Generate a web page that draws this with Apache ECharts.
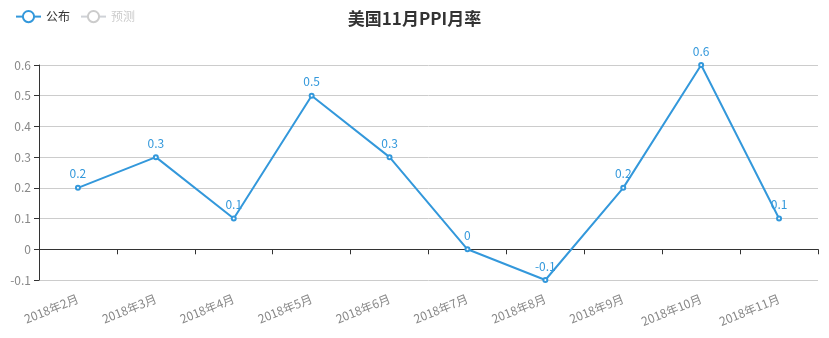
<!DOCTYPE html>
<html><head><meta charset="utf-8">
<script src="https://cdn.jsdelivr.net/npm/echarts@6/dist/echarts.min.js"></script>
<style>html,body{margin:0;padding:0;background:#fff}#c{width:829px;height:338px}</style>
</head><body><div id="c"></div>
<script>
var categories = ['2018年2月','2018年3月','2018年4月','2018年5月','2018年6月','2018年7月','2018年8月','2018年9月','2018年10月','2018年11月'];
var published = [0.2, 0.3, 0.1, 0.5, 0.3, 0, -0.1, 0.2, 0.6, 0.1];
var forecast = [];
var FONT = '"Noto Sans CJK SC", "Noto Sans", sans-serif';
var chart = echarts.init(document.getElementById('c'));
chart.setOption({
  textStyle: {fontFamily: FONT},
  title: {text: '美国11月PPI月率', left: 'center', top: 5,
    textStyle: {fontSize: 17, fontWeight: 'bold', color: '#333', fontFamily: FONT}},
  legend: {left: 10, top: 5, itemGap: 10, itemWidth: 25, itemHeight: 14,
    data: ['公布','预测'], selected: {'预测': false},
    textStyle: {fontSize: 12, color: '#333', fontFamily: FONT}, inactiveColor: '#ccc'},
  grid: {left: 39, right: 11, top: 65, bottom: 58, outerBoundsMode: 'none', containLabel: false},
  xAxis: {type: 'category', data: categories, boundaryGap: true,
    axisLine: {onZero: true, lineStyle: {color: '#333'}},
    axisTick: {show: true, lineStyle: {color: '#333'}},
    axisLabel: {rotate: 22, color: '#888', fontSize: 12, interval: 0, margin: 18, fontFamily: FONT}},
  yAxis: {type: 'value', min: -0.1, max: 0.6, interval: 0.1,
    axisLine: {show: true, lineStyle: {color: '#333'}},
    axisTick: {show: true, lineStyle: {color: '#333'}},
    axisLabel: {color: '#888', fontSize: 12, fontFamily: FONT,
      formatter: function(v){ return Math.round(v*10)/10 + ''; }},
    splitLine: {show: true, lineStyle: {color: '#ccc'}}},
  series: [
    {name: '公布', type: 'line', data: published, symbol: 'emptyCircle', symbolSize: 4,
      itemStyle: {color: '#3398DB'}, lineStyle: {width: 2, color: '#3398DB'},
      label: {show: true, position: 'top', color: '#3398DB', fontSize: 12, fontFamily: FONT}},
    {name: '预测', type: 'line', data: forecast, symbol: 'emptyCircle', symbolSize: 4,
      itemStyle: {color: '#3398DB'}}
  ]
});
</script></body></html>
